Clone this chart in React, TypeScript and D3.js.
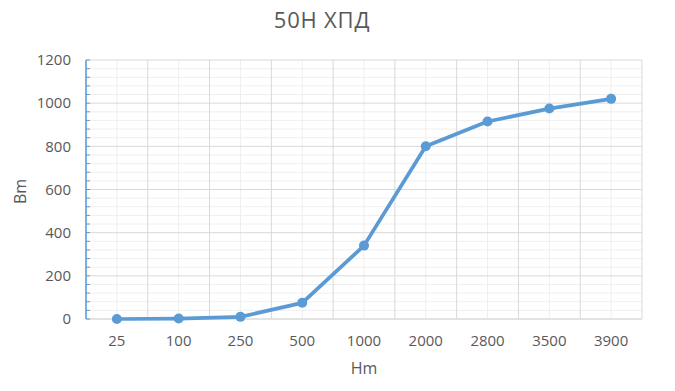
import React from "react";
import * as d3 from "d3";

const categories = ["25", "100", "250", "500", "1000", "2000", "2800", "3500", "3900"];
const values = [0, 2, 10, 75, 340, 800, 915, 975, 1020];
const yTicks = [0, 200, 400, 600, 800, 1000, 1200];
const title = "50Н ХПД";
const xTitle = "Hm";
const yTitle = "Bm";

const W = 675, H = 391;
const left = 86, right = 642, top = 60, bottom = 319;
const blue = "#5b9bd5";
const textColor = "#595959";
const font = "'Open Sans', 'Liberation Sans', sans-serif";

export default function App() {
  const x = d3.scaleBand<string>().domain(categories).range([left, right]);
  const y = d3.scaleLinear().domain([0, 1200]).range([bottom, top]);
  const minorY = d3.range(0, 1201, 40);
  const line = d3.line<number>()
    .x((_, i) => x(categories[i])! + x.bandwidth() / 2)
    .y((d) => y(d));
  return (
    <svg width={W} height={H} style={{ position: "absolute", left: 0, top: 0, background: "#fff" }}>
      <rect x={0} y={0} width={W} height={H} fill="#fff" />
      {minorY.filter((v) => v % 200 !== 0).map((v) => (
        <line key={"mh" + v} x1={left} x2={right} y1={y(v)} y2={y(v)} stroke="#efefef" strokeWidth={1} />
      ))}
      {categories.map((c) => (
        <line key={"mv" + c} x1={x(c)! + x.bandwidth() / 2} x2={x(c)! + x.bandwidth() / 2} y1={top} y2={bottom} stroke="#efefef" strokeWidth={1} />
      ))}
      {yTicks.map((v) => (
        <line key={"h" + v} x1={left} x2={right} y1={y(v)} y2={y(v)} stroke="#d9d9d9" strokeWidth={1} />
      ))}
      {categories.map((c) => (
        <line key={"v" + c} x1={x(c)!} x2={x(c)!} y1={top} y2={bottom} stroke="#d9d9d9" strokeWidth={1} />
      ))}
      <line x1={right} x2={right} y1={top} y2={bottom} stroke="#d9d9d9" strokeWidth={1} />
      <line x1={left} x2={right} y1={bottom} y2={bottom} stroke="#d9d9d9" strokeWidth={1} />
      <line x1={left} x2={left} y1={top} y2={bottom} stroke={blue} strokeWidth={1.5} />
      {minorY.map((v) => (
        <line key={"t" + v} x1={left} x2={left + 4} y1={y(v)} y2={y(v)} stroke={blue} strokeWidth={1} />
      ))}
      {yTicks.map((v) => (
        <text key={"yl" + v} x={left - 15} y={y(v)} dy="0.35em" textAnchor="end" fill={textColor} fontSize={15} fontFamily={font}>
          {v}
        </text>
      ))}
      {categories.map((c) => (
        <text key={"xl" + c} x={x(c)! + x.bandwidth() / 2} y={bottom + 22} dy="0.35em" textAnchor="middle" fill={textColor} fontSize={15} fontFamily={font}>
          {c}
        </text>
      ))}
      <path d={line(values)!} fill="none" stroke={blue} strokeWidth={3.75} strokeLinejoin="round" strokeLinecap="round" />
      {values.map((v, i) => (
        <circle key={"p" + i} cx={x(categories[i])! + x.bandwidth() / 2} cy={y(v)} r={5} fill={blue} />
      ))}
      <text x={322} y={20} dy="0.35em" textAnchor="middle" fill={textColor} fontSize={22} letterSpacing={0.8} fontFamily={font}>
        {title}
      </text>
      <text x={364} y={368} dy="0.35em" textAnchor="middle" fill={textColor} fontSize={16} fontFamily={font}>
        {xTitle}
      </text>
      <text transform={`translate(20,${(top + bottom) / 2 + 2}) rotate(-90)`} dy="0.35em" textAnchor="middle" fill={textColor} fontSize={16} fontFamily={font}>
        {yTitle}
      </text>
    </svg>
  );
}
